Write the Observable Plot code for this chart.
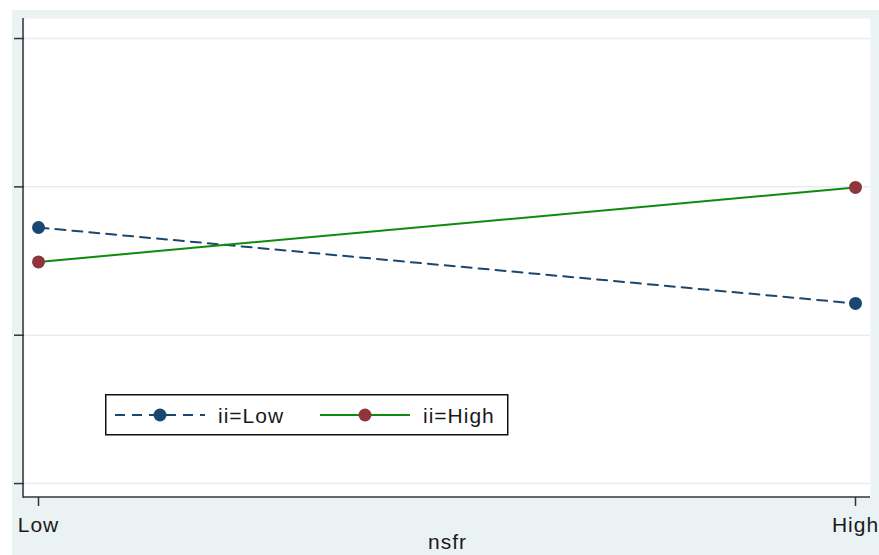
<!DOCTYPE html>
<html><head><meta charset="utf-8">
<script src="https://cdn.jsdelivr.net/npm/d3@7"></script>
<script src="https://cdn.jsdelivr.net/npm/@observablehq/plot@0.6"></script>
<style>
html,body{margin:0;padding:0;background:#fff;width:879px;height:555px;overflow:hidden;}
#bg{position:absolute;left:12px;top:10px;width:867px;height:545px;background:#EAF2F3;}
#chart{position:absolute;left:0;top:0;}
#legend{position:absolute;left:105px;top:394px;}
text{letter-spacing:1px;}
</style></head><body>
<div id="bg"></div><div id="chart"></div><div id="legend"></div>
<script>
// Data
const nsfrLevels = ["Low", "High"];
const iiLowValues = [1.726, 1.214];
const iiHighValues = [1.494, 1.996];
const seriesNames = ["ii=Low", "ii=High"];
const yTicks = [0, 1, 2, 3];
const yMin = -0.094, yMax = 3.135;

const navy = "#1A476F", maroon = "#90353B", green = "#0F8A0F";
const font = "'Liberation Sans', Arial, sans-serif";

const rowsLow = nsfrLevels.map((k, i) => ({nsfr: k, value: iiLowValues[i]}));
const rowsHigh = nsfrLevels.map((k, i) => ({nsfr: k, value: iiHighValues[i]}));

const axisLines = (index, scales, values, dims) => {
  const g = d3.create("svg:g").attr("stroke", "#333").attr("stroke-width", 1.5);
  const l = dims.marginLeft - 1, b = dims.height - dims.marginBottom, t = dims.marginTop, r = dims.width - dims.marginRight;
  g.append("line").attr("x1", l).attr("x2", l).attr("y1", t).attr("y2", b + 0.75);
  g.append("line").attr("x1", l).attr("x2", r).attr("y1", b).attr("y2", b);
  return g.node();
};

const plot = Plot.plot({
  width: 879, height: 555,
  marginLeft: 24, marginRight: 9, marginTop: 18, marginBottom: 58,
  style: {background: "transparent", fontFamily: font, fontSize: "21px", color: "#1a1a1a", overflow: "visible"},
  x: {type: "point", domain: nsfrLevels, padding: 0, insetLeft: 14, insetRight: 15, label: null},
  y: {domain: [yMin, yMax], label: null},
  marks: [
    Plot.frame({fill: "white", stroke: null}),
    Plot.gridY(yTicks, {stroke: "#E4EDF0", strokeOpacity: 1, strokeWidth: 1.5}),
    axisLines,
    Plot.axisY(yTicks, {tickSize: 10, tickFormat: () => "", stroke: "#333", strokeWidth: 1.5, label: null}),
    Plot.axisX(nsfrLevels, {tickSize: 9, tickPadding: 11, stroke: "#333", strokeWidth: 1.5, fontSize: 21, label: null, fill: "#1a1a1a"}),
    Plot.text(["nsfr"], {frameAnchor: "bottom", dy: 51, fontSize: 21, fill: "#1a1a1a"}),
    Plot.line(rowsLow, {x: "nsfr", y: "value", stroke: navy, strokeWidth: 2, strokeDasharray: "10,7"}),
    Plot.line(rowsHigh, {x: "nsfr", y: "value", stroke: green, strokeWidth: 2}),
    Plot.dot(rowsLow, {x: "nsfr", y: "value", r: 6.5, fill: navy, stroke: null}),
    Plot.dot(rowsHigh, {x: "nsfr", y: "value", r: 6.5, fill: maroon, stroke: null})
  ]
});
document.getElementById("chart").append(plot);

// Legend
const lg = d3.select("#legend").append("svg").attr("width", 404).attr("height", 42)
  .style("font-family", font).style("font-size", "21px");
lg.append("rect").attr("x", 0.75).attr("y", 0.75).attr("width", 402).attr("height", 40)
  .attr("fill", "white").attr("stroke", "#111").attr("stroke-width", 1.5);
const items = [
  {name: seriesNames[0], x0: 10, line: navy, dot: navy, dash: "10,7", tx: 113},
  {name: seriesNames[1], x0: 215, line: green, dot: maroon, dash: null, tx: 318}
];
for (const it of items) {
  lg.append("line").attr("x1", it.x0).attr("x2", it.x0 + 90).attr("y1", 21).attr("y2", 21)
    .attr("stroke", it.line).attr("stroke-width", 2).attr("stroke-dasharray", it.dash);
  lg.append("circle").attr("cx", it.x0 + 45).attr("cy", 21).attr("r", 6.5).attr("fill", it.dot);
  lg.append("text").attr("x", it.tx).attr("y", 28.5).attr("fill", "#1a1a1a").text(it.name);
}
</script>
</body></html>
